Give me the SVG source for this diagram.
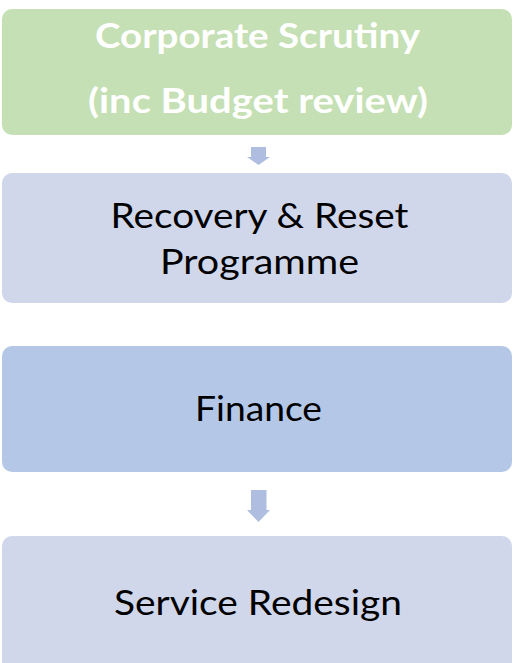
<svg xmlns="http://www.w3.org/2000/svg" width="513" height="663" viewBox="0 0 513 663">
<style>
.lbl{font-family:Lato,"Open Sans","Liberation Sans",sans-serif;font-size:34px;fill:#000;text-anchor:middle}
.hd{font-weight:bold;fill:#fff}
.arrow{fill:#AFBDE0}
</style>
<rect width="513" height="663" fill="#fff"/>
<g id="n1">
<rect x="2" y="9" width="510" height="126" rx="10" fill="#C5E0B4"/>
<text class="lbl hd" x="257.5" y="48" textLength="325" lengthAdjust="spacingAndGlyphs">Corporate Scrutiny</text>
<text class="lbl hd" x="258" y="113" textLength="340" lengthAdjust="spacingAndGlyphs">(inc Budget review)</text>
</g>
<g id="n2">
<rect x="2" y="173" width="510" height="130" rx="10" fill="#D0D7EB"/>
<text class="lbl" x="259.5" y="228" textLength="298" lengthAdjust="spacingAndGlyphs">Recovery &amp; Reset</text>
<text class="lbl" x="259.5" y="274" textLength="199" lengthAdjust="spacingAndGlyphs">Programme</text>
</g>
<g id="n3">
<rect x="2" y="346" width="510" height="126" rx="10" fill="#B4C7E7"/>
<text class="lbl" x="258.5" y="421" textLength="127" lengthAdjust="spacingAndGlyphs">Finance</text>
</g>
<g id="n4">
<rect x="2" y="536" width="510" height="140" rx="10" fill="#D0D7EB"/>
<text class="lbl" x="258" y="615" textLength="288" lengthAdjust="spacingAndGlyphs">Service Redesign</text>
</g>
<g id="connectors">
<polygon class="arrow" points="251,147 266,147 266,157 270,157 258.5,165 247,157 251,157"/>
<polygon class="arrow" points="251,490 266.5,490 266.5,510 270,510 258.5,522 247,510 251,510"/>
</g>
</svg>
